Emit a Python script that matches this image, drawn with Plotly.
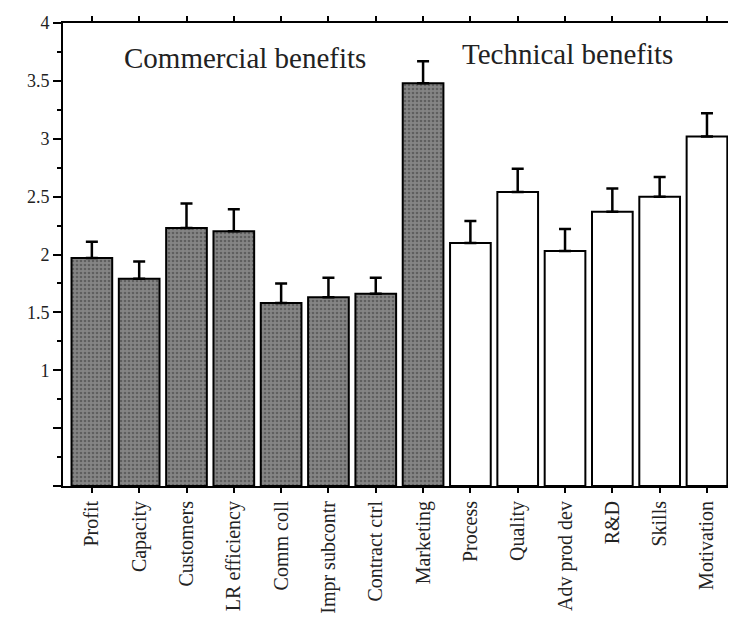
import plotly.graph_objects as go

categories = ["Profit", "Capacity", "Customers", "LR efficiency", "Comm coll",
              "Impr subcontr", "Contract ctrl", "Marketing", "Process", "Quality",
              "Adv prod dev", "R&D", "Skills", "Motivation"]
means = [1.97, 1.79, 2.23, 2.20, 1.58, 1.63, 1.66, 3.48,
         2.10, 2.54, 2.03, 2.37, 2.50, 3.02]
errors = [0.14, 0.15, 0.21, 0.19, 0.17, 0.17, 0.14, 0.19,
          0.19, 0.20, 0.19, 0.20, 0.17, 0.20]
groups = ["Commercial"] * 8 + ["Technical"] * 6
y_tickvals = [0, 0.5, 1, 1.5, 2, 2.5, 3, 3.5, 4]
y_ticktext = ["", "", "1", "1.5", "2", "2.5", "3", "3.5", "4"]

FONT = "Liberation Serif"

fig = go.Figure()
for grp, col, shape in [("Commercial", "#858585", "."), ("Technical", "#ffffff", "")]:
    idx = [i for i, g in enumerate(groups) if g == grp]
    fig.add_trace(go.Bar(
        x=idx,
        y=[means[i] for i in idx],
        width=0.86,
        marker=dict(color=col, line=dict(color="black", width=2),
                    pattern=dict(shape=shape, fillmode="overlay", fgcolor="#3a3a3a",
                                 size=4, solidity=0.35)),
        error_y=dict(type="data", symmetric=False,
                     array=[errors[i] for i in idx], arrayminus=[0] * len(idx),
                     color="black", thickness=2.5, width=6),
        showlegend=False,
    ))

fig.add_annotation(x=3.23, y=3.70, text="Commercial benefits", showarrow=False,
                   xref="x", yref="y", font=dict(family=FONT, size=29, color="#222"))
fig.add_annotation(x=10.05, y=3.73, text="Technical benefits", showarrow=False,
                   xref="x", yref="y", font=dict(family=FONT, size=29, color="#222"))

# page body has an 8px default margin, so the figure is sized to fit the window
fig.update_layout(
    width=728, height=616,
    margin=dict(l=55, r=3, t=15, b=138, autoexpand=False),
    plot_bgcolor="white", paper_bgcolor="white",
    bargap=0.1,
    font=dict(family=FONT, color="#222", size=15),
)
fig.update_xaxes(
    range=[-0.61, 13.55], automargin=False,
    tickvals=list(range(len(categories))), ticktext=categories,
    tickangle=-90, ticks="outside", ticklen=5, tickwidth=1.5, tickcolor="black",
    showline=True, linecolor="black", linewidth=2, mirror="ticks",
    showgrid=False, zeroline=False,
    tickfont=dict(family=FONT, size=20, color="#222"),
)
fig.update_yaxes(
    range=[0, 4], automargin=False,
    tickvals=y_tickvals, ticktext=y_ticktext,
    ticks="outside", ticklen=8, tickwidth=1.5, tickcolor="black",
    minor=dict(dtick=0.25, ticks="outside", ticklen=4, tickcolor="black", tickwidth=1.5),
    showline=True, linecolor="black", linewidth=2, mirror="ticks",
    showgrid=False, zeroline=False,
    tickfont=dict(family=FONT, size=18, color="#222"),
)

fig.write_html("out.html")
